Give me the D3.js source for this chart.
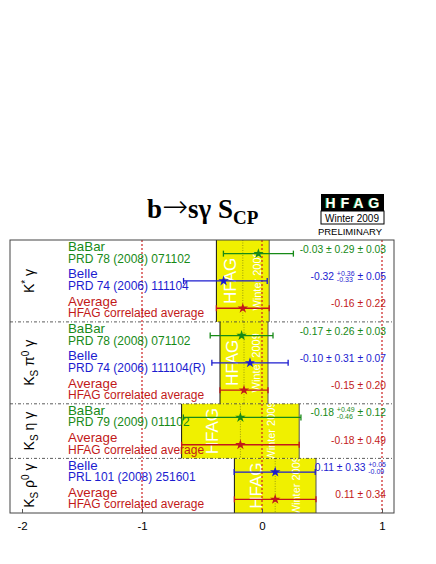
<!DOCTYPE html>
<html>
<head>
<meta charset="utf-8">
<script src="https://cdn.jsdelivr.net/npm/d3@7"></script>
<style>
body { margin: 0; background: #fff; }
text { font-family: "Liberation Sans", Arial, sans-serif; }
</style>
</head>
<body>
<div class="chart"></div>
<script>
// ---- data ----
var sectionRows = [3, 3, 2, 2];
var expNames = ["BaBar", "Belle", "Average", "BaBar", "Belle", "Average", "BaBar", "Average", "Belle", "Average"];
var expRefs = ["PRD 78 (2008) 071102", "PRD 74 (2006) 111104", "HFAG correlated average",
               "PRD 78 (2008) 071102", "PRD 74 (2006) 111104(R)", "HFAG correlated average",
               "PRD 79 (2009) 011102", "HFAG correlated average",
               "PRL 101 (2008) 251601", "HFAG correlated average"];
var central   = [-0.03, -0.32, -0.16, -0.17, -0.10, -0.15, -0.18, -0.18, 0.11, 0.11];
var statPlus  = [0.29, 0.36, 0.22, 0.26, 0.31, 0.20, 0.49, 0.49, 0.33, 0.34];
var statMinus = [0.29, 0.33, 0.22, 0.26, 0.31, 0.20, 0.46, 0.49, 0.33, 0.34];
var systPlus  = [0.03, 0.05, 0, 0.03, 0.07, 0, 0.12, 0, 0.05, 0];
var systMinus = [0.03, 0.05, 0, 0.03, 0.07, 0, 0.12, 0, 0.09, 0];
var xTicks = [-2, -1, 0, 1];
var refLines = [-1, 0, 1];

var expColor = { BaBar: "#178a17", Belle: "#1c1ccf", Average: "#c21919" };

var svgWidth = 436, svgHeight = 564;
var frame = { left: 10, right: 394, top: 240, bottom: 513 };

var svg = d3.select(".chart").append("svg")
    .attr("width", svgWidth)
    .attr("height", svgHeight);

// scales
var xScale = d3.scaleLinear().domain([-2.1, 1.1]).range([frame.left, frame.right]);
var rowIdx = d3.range(central.length);
var yScale = d3.scaleBand().domain(rowIdx).range([frame.top, frame.bottom]).padding(0);
var rowY = function(i) { return yScale(i) + yScale.bandwidth() / 2; };

// section extents
var sections = [];
var start = 0;
sectionRows.forEach(function(n, s) {
    sections.push({ s: s, first: start, last: start + n - 1,
        y0: yScale(start), y1: yScale(start + n - 1) + yScale.bandwidth() });
    start += n;
});

// ---- title ----
var title = svg.append("text")
    .attr("x", 147).attr("y", 218)
    .style("font-family", "'Liberation Serif', 'Times New Roman', serif")
    .style("font-weight", "bold")
    .style("font-size", "27px");
title.append("tspan").text("b");
title.append("tspan").style("font-family", "'DejaVu Sans', sans-serif").style("font-weight", "200")
    .style("font-size", "31px").attr("dy", -1).text("\u2192");
title.append("tspan").attr("dy", 1).text("s\u03b3 S");
title.append("tspan").attr("dy", 6).style("font-size", "19px").text("CP");

// ---- HFAG logo ----
var logo = svg.append("g");
logo.append("rect").attr("x", 321).attr("y", 194).attr("width", 63).attr("height", 17).attr("fill", "#000");
logo.append("text").attr("x", 354).attr("y", 208).attr("text-anchor", "middle")
    .style("font-size", "14px").style("font-weight", "bold").style("letter-spacing", "5px")
    .attr("fill", "#1c9a1c").text("HFAG");
logo.append("text").attr("x", 355).attr("y", 208).attr("text-anchor", "middle")
    .style("font-size", "14px").style("font-weight", "bold").style("letter-spacing", "5px")
    .attr("fill", "#fff").text("HFAG");
logo.append("rect").attr("x", 321).attr("y", 211).attr("width", 63).attr("height", 13)
    .attr("fill", "#fff").attr("stroke", "#000");
logo.append("text").attr("x", 352).attr("y", 221.5).attr("text-anchor", "middle")
    .style("font-size", "10px").text("Winter 2009");
logo.append("text").attr("x", 350).attr("y", 235).attr("text-anchor", "middle")
    .style("font-size", "9.5px").text("PRELIMINARY");

// ---- plot ----
var plot = svg.append("g");
var defs = svg.append("defs");

// yellow HFAG average bands
sections.forEach(function(sec) {
    var a = sec.last;
    var bx0 = xScale(central[a] - statMinus[a]);
    var bx1 = xScale(central[a] + statPlus[a]);
    plot.append("rect")
        .attr("x", bx0).attr("y", sec.y0)
        .attr("width", bx1 - bx0).attr("height", sec.y1 - sec.y0)
        .attr("fill", "#f0f000");
    plot.append("line").attr("x1", bx0).attr("x2", bx0).attr("y1", sec.y0).attr("y2", sec.y1)
        .attr("stroke", "#111").attr("stroke-width", 1);
    plot.append("line").attr("x1", bx1).attr("x2", bx1).attr("y1", sec.y0).attr("y2", sec.y1)
        .attr("stroke", "#555").attr("stroke-width", 1);
    // dotted centre of the average
    plot.append("line")
        .attr("x1", xScale(central[a])).attr("x2", xScale(central[a]))
        .attr("y1", sec.y0).attr("y2", sec.y1)
        .attr("stroke", "#9a9a10").attr("stroke-width", 1).attr("stroke-dasharray", "1,1.5");

    // clipped watermark text
    var cid = "clip" + sec.s;
    defs.append("clipPath").attr("id", cid).append("rect")
        .attr("x", bx0).attr("y", sec.y0).attr("width", bx1 - bx0).attr("height", sec.y1 - sec.y0);
    var wg = plot.append("g").attr("clip-path", "url(#" + cid + ")");
    var cy = (sec.y0 + sec.y1) / 2;
    wg.append("text")
        .attr("transform", "translate(" + (bx0 + 0.26 * (bx1 - bx0) + 6) + "," + cy + ") rotate(-90)")
        .attr("text-anchor", "middle").attr("fill", "#fff")
        .style("font-size", "17px").text("HFAG");
    wg.append("text")
        .attr("transform", "translate(" + (bx0 + 0.76 * (bx1 - bx0) + 4) + "," + cy + ") rotate(-90)")
        .attr("text-anchor", "middle").attr("fill", "#fff")
        .style("font-size", "11px").text("Winter 2009");
});

// red dotted reference lines
plot.selectAll(".refline").data(refLines).enter().append("line")
    .attr("class", "refline")
    .attr("x1", d => xScale(d)).attr("x2", d => xScale(d))
    .attr("y1", frame.top).attr("y2", frame.bottom)
    .attr("stroke", "#cc2020").attr("stroke-width", 1.2).attr("stroke-dasharray", "2,2");

// section dividers
plot.selectAll(".divider").data(sections.slice(1)).enter().append("line")
    .attr("class", "divider")
    .attr("x1", frame.left).attr("x2", frame.right)
    .attr("y1", d => d.y0).attr("y2", d => d.y0)
    .attr("stroke", "#333").attr("stroke-width", 0.8).attr("stroke-dasharray", "3,2,1,2");

// section labels (rotated)
var secLabels = [
    [["K", 0, 14], ["*", -5, 10], [" \u03b3", 5, 14]],
    [["K", 0, 14], ["S", 4, 10], [" \u03c0", -4, 14], ["0", -5, 10], [" \u03b3", 5, 14]],
    [["K", 0, 14], ["S", 4, 10], [" \u03b7 \u03b3", -4, 14]],
    [["K", 0, 14], ["S", 4, 10], [" \u03c1", -4, 14], ["0", -5, 10], [" \u03b3", 5, 14]]
];
sections.forEach(function(sec) {
    var t = plot.append("text")
        .attr("transform", "translate(34," + (sec.y0 + sec.y1) / 2 + ") rotate(-90)")
        .attr("text-anchor", "middle");
    secLabels[sec.s].forEach(function(p) {
        t.append("tspan").attr("dy", p[1]).style("font-size", p[2] + "px").text(p[0]);
    });
});

// experiment names and references
var nameG = plot.append("g");
rowIdx.forEach(function(i) {
    nameG.append("text").attr("x", 68).attr("y", rowY(i) - 2.5)
        .attr("fill", expColor[expNames[i]]).style("font-size", "13.3px").text(expNames[i]);
    nameG.append("text").attr("x", 68).attr("y", rowY(i) + 9)
        .attr("fill", expColor[expNames[i]]).style("font-size", "12px").text(expRefs[i]);
});

// error bars
var totPlus = rowIdx.map(i => Math.sqrt(statPlus[i] * statPlus[i] + systPlus[i] * systPlus[i]));
var totMinus = rowIdx.map(i => Math.sqrt(statMinus[i] * statMinus[i] + systMinus[i] * systMinus[i]));
var bars = plot.append("g");
rowIdx.forEach(function(i) {
    var col = expColor[expNames[i]];
    var xl = xScale(central[i] - totMinus[i]);
    var xr = xScale(central[i] + totPlus[i]);
    var y = rowY(i);
    bars.append("line").attr("x1", xl).attr("x2", xr).attr("y1", y).attr("y2", y)
        .attr("stroke", col).attr("stroke-width", 1.3);
    [xl, xr].forEach(function(x) {
        bars.append("line").attr("x1", x).attr("x2", x).attr("y1", y - 3).attr("y2", y + 3)
            .attr("stroke", col).attr("stroke-width", 1.3);
    });
});

// star markers
var star = d3.symbol().type(d3.symbolStar).size(34);
plot.selectAll(".star").data(rowIdx).enter().append("path")
    .attr("class", "star")
    .attr("d", star)
    .attr("transform", d => "translate(" + xScale(central[d]) + "," + rowY(d) + ")")
    .attr("fill", d => expColor[expNames[d]]);

// value labels, right aligned
function fmt(v) { return v.toFixed(2); }
var valG = plot.append("g");
rowIdx.forEach(function(i) {
    var pieces = [];
    var isAvg = systPlus[i] === 0 && systMinus[i] === 0;
    if (statPlus[i] === statMinus[i]) {
        pieces.push({ s: fmt(central[i]) + " \u00b1 " + fmt(statPlus[i]) + (isAvg ? "" : " ") });
    } else {
        pieces.push({ s: fmt(central[i]) + " " });
        pieces.push({ up: "+" + fmt(statPlus[i]), down: "-" + fmt(statMinus[i]) });
        pieces.push({ s: " " });
    }
    if (!isAvg) {
        if (systPlus[i] === systMinus[i]) pieces.push({ s: "\u00b1 " + fmt(systPlus[i]) });
        else pieces.push({ up: "+" + fmt(systPlus[i]), down: "-" + fmt(systMinus[i]) });
    }
    var col = expColor[expNames[i]];
    var g = valG.append("g");
    var x = 0;
    pieces.forEach(function(p) {
        if (p.s !== undefined) {
            var t = g.append("text").attr("x", x).attr("y", 0).attr("fill", col)
                .style("font-size", "10.3px").style("white-space", "pre").attr("xml:space", "preserve").text(p.s);
            x += t.node().getComputedTextLength();
        } else {
            var t1 = g.append("text").attr("x", x).attr("y", -4).attr("fill", col)
                .style("font-size", "7px").text(p.up);
            var t2 = g.append("text").attr("x", x).attr("y", 2.5).attr("fill", col)
                .style("font-size", "7px").text(p.down);
            x += Math.max(t1.node().getComputedTextLength(), t2.node().getComputedTextLength());
        }
    });
    g.attr("transform", "translate(" + (386 - x) + "," + (rowY(i) - 1) + ")");
});

// frame
svg.append("rect")
    .attr("x", frame.left).attr("y", frame.top)
    .attr("width", frame.right - frame.left).attr("height", frame.bottom - frame.top)
    .attr("fill", "none").attr("stroke", "#444").attr("stroke-width", 1);

// x axis
var xAxis = d3.axisBottom(xScale).tickValues(xTicks).tickFormat(d => String(d))
    .tickSizeInner(-4).tickSizeOuter(0).tickPadding(9);
var axisG = svg.append("g")
    .attr("transform", "translate(0," + frame.bottom + ")")
    .call(xAxis);
axisG.select(".domain").remove();
axisG.selectAll("line").attr("stroke", "#555");
axisG.selectAll("text").style("font-size", "11.5px").style("font-family", "'Liberation Sans', Arial, sans-serif");
</script>
</body>
</html>
